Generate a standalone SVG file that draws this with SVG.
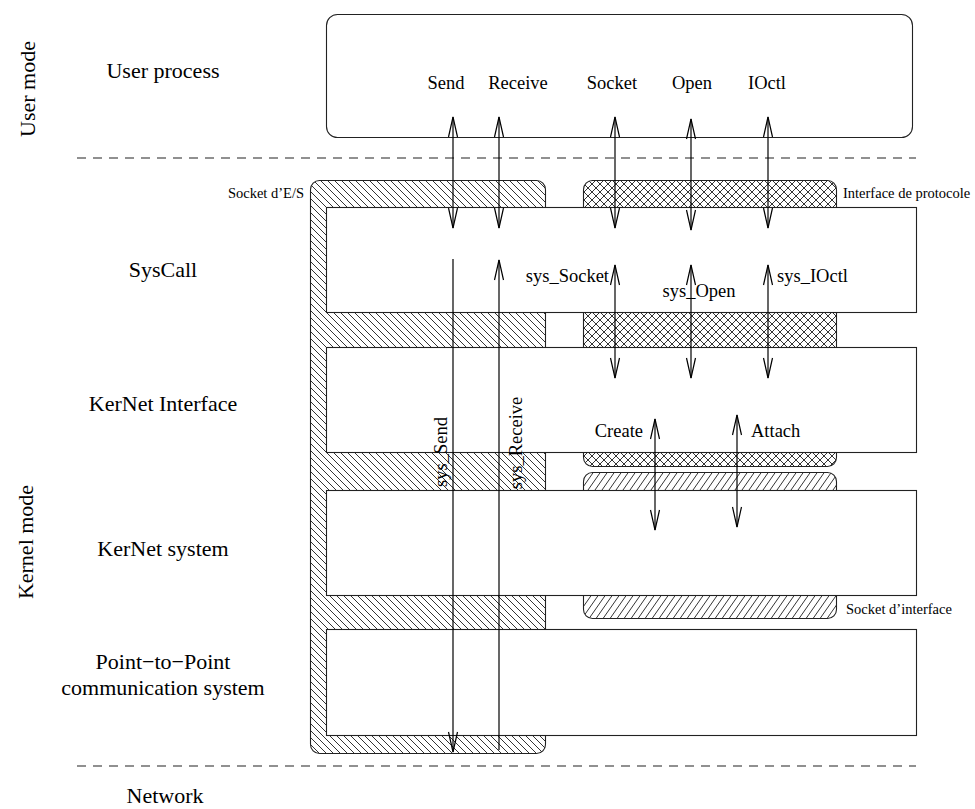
<svg xmlns="http://www.w3.org/2000/svg" width="975" height="809" viewBox="0 0 975 809">
<style>
text{font-family:"Liberation Serif","Times New Roman",serif;fill:#000}
.big{font-size:22px}
.lbl{font-size:18.5px}
.sm{font-size:14.5px}
.box{fill:#fff;stroke:#222;stroke-width:1.1}
.dash{stroke:#222;stroke-width:1.2;stroke-dasharray:9 7;fill:none}
.arr{stroke:#000;stroke-width:1.2;fill:none}
</style>
<defs>
<pattern id="bs" width="7" height="7" patternUnits="userSpaceOnUse"><path d="M0,0 L7,7 M-1,6 L1,8 M6,-1 L8,1" stroke="#000" stroke-width="0.8"/></pattern>
<pattern id="fs" width="7" height="10" patternUnits="userSpaceOnUse"><path d="M0,10 L7,0 M-7,10 L0,0 M7,10 L14,0" stroke="#000" stroke-width="0.8"/></pattern>
<pattern id="cx" width="8" height="8" patternUnits="userSpaceOnUse"><path d="M0,0 L8,8 M8,0 L0,8" stroke="#000" stroke-width="0.8"/></pattern>
<marker id="ah" markerUnits="userSpaceOnUse" markerWidth="22" markerHeight="12" refX="20" refY="5" orient="auto-start-reverse" overflow="visible"><path d="M0,0.5 L20,5 L0,9.5" fill="none" stroke="#000" stroke-width="1.2"/></marker>
</defs>

<g id="mode-lines">
<line class="dash" x1="77" y1="158" x2="916" y2="158"/>
<line class="dash" x1="77" y1="766" x2="916" y2="766"/>
<text class="big" transform="translate(35,89) rotate(-90)" text-anchor="middle">User mode</text>
<text class="big" transform="translate(33,542) rotate(-90)" text-anchor="middle">Kernel mode</text>
<text class="big" x="165" y="803" text-anchor="middle">Network</text>
</g>

<g id="socket-es">
<rect x="310.5" y="180.5" width="235" height="573" rx="9" fill="url(#bs)" stroke="#222" stroke-width="1.1"/>
<text class="sm" x="304" y="198" text-anchor="end">Socket d’E/S</text>
</g>

<g id="interface-protocole">
<rect x="583.5" y="180.5" width="253" height="286" rx="9" fill="url(#cx)" stroke="#222" stroke-width="1.1"/>
<text class="sm" x="843" y="198">Interface de protocole</text>
</g>

<g id="socket-interface">
<rect x="583.5" y="472.5" width="253" height="146" rx="9" fill="url(#fs)" stroke="#222" stroke-width="1.1"/>
<text class="sm" x="846" y="614">Socket d’interface</text>
</g>

<g id="user-process">
<rect class="box" x="326.5" y="14.5" width="586" height="123" rx="11"/>
<text class="big" x="163" y="78" text-anchor="middle">User process</text>
<text class="lbl" x="446" y="89" text-anchor="middle">Send</text>
<text class="lbl" x="518" y="89" text-anchor="middle">Receive</text>
<text class="lbl" x="612" y="89" text-anchor="middle">Socket</text>
<text class="lbl" x="692" y="89" text-anchor="middle">Open</text>
<text class="lbl" x="767" y="89" text-anchor="middle">IOctl</text>
</g>

<g id="syscall">
<rect class="box" x="326.5" y="207.5" width="590" height="105"/>
<text class="big" x="163" y="277" text-anchor="middle">SysCall</text>
</g>

<g id="kernet-interface">
<rect class="box" x="326.5" y="347.5" width="590" height="105"/>
<text class="big" x="163" y="411" text-anchor="middle">KerNet Interface</text>
</g>

<g id="kernet-system">
<rect class="box" x="326.5" y="490.5" width="590" height="105"/>
<text class="big" x="163" y="556" text-anchor="middle">KerNet system</text>
</g>

<g id="p2p">
<rect class="box" x="326.5" y="629.5" width="590" height="106"/>
<text class="big" x="163" y="669" text-anchor="middle">Point−to−Point</text>
<text class="big" x="163" y="695" text-anchor="middle">communication system</text>
</g>

<g id="connectors">
<line class="arr" x1="453" y1="117" x2="453" y2="228" marker-start="url(#ah)" marker-end="url(#ah)"/>
<line class="arr" x1="499" y1="117" x2="499" y2="228" marker-start="url(#ah)" marker-end="url(#ah)"/>
<line class="arr" x1="615" y1="117" x2="615" y2="228" marker-start="url(#ah)" marker-end="url(#ah)"/>
<line class="arr" x1="691" y1="119" x2="691" y2="230" marker-start="url(#ah)" marker-end="url(#ah)"/>
<line class="arr" x1="768" y1="117" x2="768" y2="228" marker-start="url(#ah)" marker-end="url(#ah)"/>
<line class="arr" x1="453" y1="259" x2="453" y2="752" marker-end="url(#ah)"/>
<line class="arr" x1="499" y1="750" x2="499" y2="260" marker-end="url(#ah)"/>
<line class="arr" x1="615" y1="265" x2="615" y2="378" marker-start="url(#ah)" marker-end="url(#ah)"/>
<line class="arr" x1="691" y1="265" x2="691" y2="378" marker-start="url(#ah)" marker-end="url(#ah)"/>
<line class="arr" x1="768" y1="265" x2="768" y2="378" marker-start="url(#ah)" marker-end="url(#ah)"/>
<line class="arr" x1="655" y1="419" x2="655" y2="530" marker-start="url(#ah)" marker-end="url(#ah)"/>
<line class="arr" x1="737" y1="415" x2="737" y2="527" marker-start="url(#ah)" marker-end="url(#ah)"/>
<text class="lbl" x="609" y="282" text-anchor="end">sys_Socket</text>
<text class="lbl" x="699" y="297" text-anchor="middle">sys_Open</text>
<text class="lbl" x="777" y="282">sys_IOctl</text>
<text class="lbl" x="643" y="437" text-anchor="end">Create</text>
<text class="lbl" x="751" y="437">Attach</text>
<text class="lbl" transform="translate(447,452) rotate(-90)" text-anchor="middle">sys_Send</text>
<text class="lbl" transform="translate(522,443) rotate(-90)" text-anchor="middle">sys_Receive</text>
</g>
</svg>
